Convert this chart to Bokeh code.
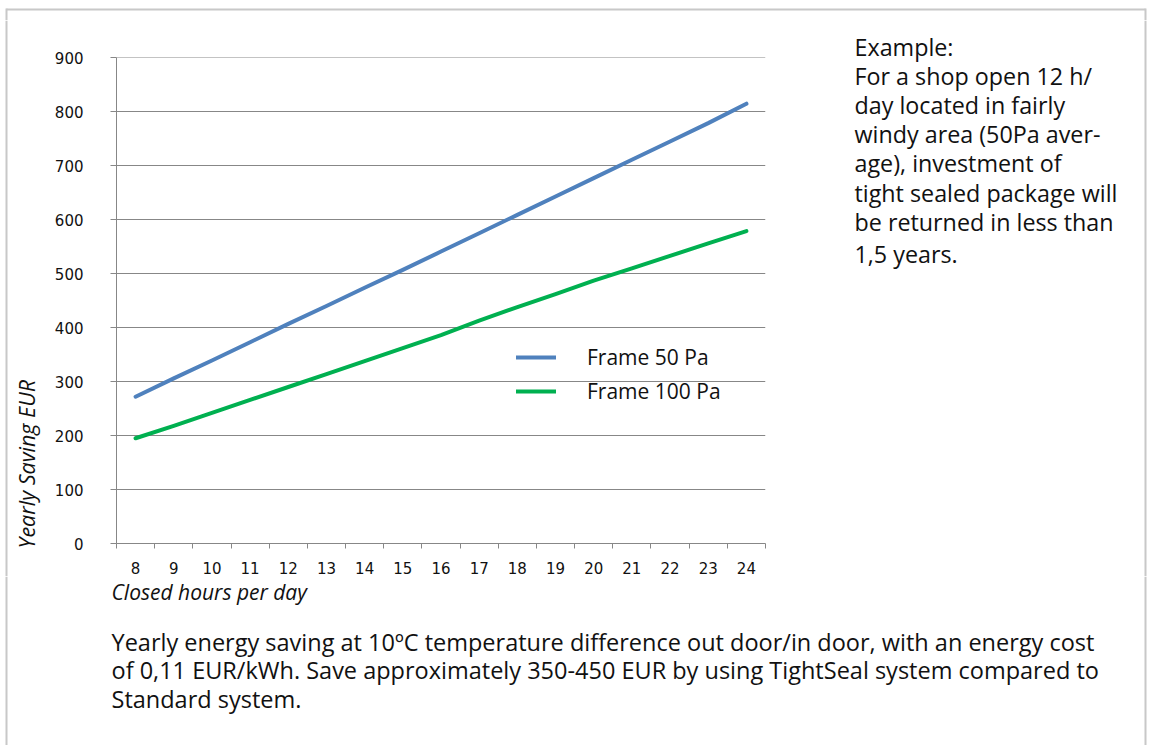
import math
from bokeh.plotting import figure
from bokeh.models import Range1d, FixedTicker, Legend, LegendItem
from bokeh.layouts import column, row
from bokeh.core.properties import value
from bokeh.embed import file_html
from bokeh.resources import INLINE

# ---------------- data ----------------
hours = [8, 9, 10, 11, 12, 13, 14, 15, 16, 17, 18, 19, 20, 21, 22, 23, 24]
frame_50 = [272, 306, 339, 373, 407, 440, 474, 507, 541, 575, 609, 643, 677,
            711, 745, 779, 815]
frame_100 = [195, 218, 242, 266, 290, 314, 338, 362, 386, 413, 438, 462, 487,
             510, 533, 556, 579]
y_ticks = [0, 100, 200, 300, 400, 500, 600, 700, 800, 900]
series_names = ["Frame 50 Pa", "Frame 100 Pa"]
x_title = "Closed hours per day"
y_title = "Yearly Saving EUR"
example_lines = [
    "Example:",
    "For a shop open 12 h/",
    "day located in fairly",
    "windy area (50Pa aver-",
    "age), investment of",
    "tight sealed package will",
    "be returned in less than",
    "1,5 years.",
]
note_lines = [
    "Yearly energy saving at 10\u00baC temperature difference out door/in door, with an energy cost",
    "of 0,11 EUR/kWh. Save approximately 350-450 EUR by using TightSeal system compared to",
    "Standard system.",
]

# ---------------- layout / style ----------------
BLUE = "#4F81BD"
GREEN = "#00B050"
GRID = "#878787"
BORDER = "#c8c8c8"
TXT = "#111111"
FONT = "Open Sans"

W = 1148
TOP_H, MID_H, NOTE_H = 20, 556, 169
YT_W, CHART_W = 48, 792
EX_W = W - YT_W - CHART_W
F_LEFT, F_RIGHT, F_TOP, F_BOTTOM = 116, 765, 57, 544   # page pixels
BL, BT, BR = 6, 9, 1145                                  # outer frame lines


def no_align(f):
    if "frame_align" in f.properties():
        f.frame_align = False
    return f


def canvas_fig(w, h):
    f = figure(width=w, height=h, x_range=Range1d(0, w), y_range=Range1d(0, h),
               x_axis_location=None, y_axis_location=None,
               toolbar_location=None, output_backend="svg", min_border=0)
    f.outline_line_color = None
    f.grid.visible = False
    f.background_fill_color = "white"
    f.border_fill_color = "white"
    return no_align(f)


def put_text(f, x0, y0, h, xs, ys, texts, size=23.3, style="normal",
             angle=0.0, shift=0.0):
    # page pixel positions -> local coordinates of helper figure
    # (shift compensates the renderer's baseline placement)
    if angle:
        xs = [x - shift for x in xs]
    else:
        ys = [y - shift for y in ys]
    f.text(x=[x - x0 for x in xs], y=[h - (y - y0) for y in ys], text=texts,
           angle=angle, text_font=value(FONT),
           text_font_size=value(f"{size}px"),
           text_font_style=style, text_color=TXT, text_align="left",
           text_baseline="alphabetic")


def vline(f, x0, y0, h, px, py1, py2):
    f.line([px - x0, px - x0], [h - (py1 - y0), h - (py2 - y0)],
           line_color=BORDER, line_width=2)


# ---- top strip (outer frame top) ----
top = canvas_fig(W, TOP_H)
top.line([BL, BR], [TOP_H - BT, TOP_H - BT], line_color=BORDER, line_width=2)
vline(top, 0, 0, TOP_H, BL, BT - 1, TOP_H)
vline(top, 0, 0, TOP_H, BR, BT - 1, TOP_H)

# ---- y title strip ----
yt = canvas_fig(YT_W, MID_H)
vline(yt, 0, TOP_H, MID_H, BL, TOP_H, TOP_H + MID_H)
put_text(yt, 0, TOP_H, MID_H, [33], [548], [y_title], size=21.5,
         style="italic", angle=math.pi / 2, shift=7)

# ---- chart ----
X0, X1 = hours[0] - 0.5, hours[-1] + 0.5
Y0, Y1 = y_ticks[0], y_ticks[-1] + 0.6
p = figure(width=CHART_W, height=MID_H, output_backend="svg",
           toolbar_location=None,
           min_border_left=F_LEFT - YT_W,
           min_border_right=YT_W + CHART_W - F_RIGHT,
           min_border_top=F_TOP - TOP_H,
           min_border_bottom=TOP_H + MID_H - F_BOTTOM,
           x_range=Range1d(X0, X1), y_range=Range1d(Y0, Y1))
no_align(p)
p.outline_line_color = None
p.background_fill_color = "white"
p.border_fill_color = "white"

bounds = [h - 0.5 for h in hours] + [hours[-1] + 0.5]
p.xaxis.ticker = FixedTicker(ticks=hours, minor_ticks=bounds)
p.xaxis.major_tick_out = 0
p.xaxis.major_tick_in = 0
p.xaxis.minor_tick_out = 5
p.xaxis.minor_tick_in = 0
p.xaxis.minor_tick_line_color = GRID
p.xaxis.axis_line_color = GRID
p.xaxis.major_label_standoff = 13
p.xaxis.major_label_text_font = "DejaVu Sans"
p.xaxis.major_label_text_font_size = "15px"
p.xaxis.major_label_text_color = TXT

p.yaxis.ticker = FixedTicker(ticks=y_ticks)
p.yaxis.major_tick_out = 6
p.yaxis.major_tick_in = 0
p.yaxis.major_tick_line_color = GRID
p.yaxis.minor_tick_line_color = None
p.yaxis.axis_line_color = GRID
p.yaxis.major_label_standoff = 27
p.yaxis.major_label_text_font = "DejaVu Sans"
p.yaxis.major_label_text_font_size = "15px"
p.yaxis.major_label_text_color = TXT

p.xgrid.grid_line_color = None
p.ygrid.grid_line_color = GRID
p.ygrid.grid_line_width = 1

r1 = p.line(hours, frame_50, line_color=BLUE, line_width=4, line_cap="round",
            line_join="round")
r2 = p.line(hours, frame_100, line_color=GREEN, line_width=4, line_cap="round",
            line_join="round")

legend = Legend(items=[LegendItem(label=series_names[0], renderers=[r1]),
                       LegendItem(label=series_names[1], renderers=[r2])],
                location=(400, 137), orientation="vertical",
                glyph_width=40, glyph_height=30, label_height=30,
                label_standoff=31, spacing=4, padding=0, margin=0,
                border_line_color=None, background_fill_alpha=0,
                label_text_font=FONT, label_text_font_size="21px",
                label_text_color=TXT)
p.add_layout(legend)

# ---- example text (right) ----
EX_X0 = YT_W + CHART_W
ex = canvas_fig(EX_W, MID_H)
vline(ex, EX_X0, TOP_H, MID_H, BR, TOP_H, TOP_H + MID_H)
ex_base = [56, 85, 114, 143, 172, 202, 231, 263]
put_text(ex, EX_X0, TOP_H, MID_H, [854] * len(example_lines), ex_base,
         example_lines, shift=10)

# ---- note + x title (bottom) ----
NOTE_Y0 = TOP_H + MID_H
note = canvas_fig(W, NOTE_H)
vline(note, 0, NOTE_Y0, NOTE_H, BL, NOTE_Y0, NOTE_Y0 + NOTE_H)
vline(note, 0, NOTE_Y0, NOTE_H, BR, NOTE_Y0, NOTE_Y0 + NOTE_H)
put_text(note, 0, NOTE_Y0, NOTE_H, [111], [600], [x_title], size=21,
         style="italic", shift=9)
note_base = [651, 679, 708]
put_text(note, 0, NOTE_Y0, NOTE_H, [111] * len(note_lines), note_base,
         note_lines, size=23.5, shift=10)

layout = column(top, row(yt, p, ex), note)
open("out.html", "w").write(file_html(layout, INLINE))
